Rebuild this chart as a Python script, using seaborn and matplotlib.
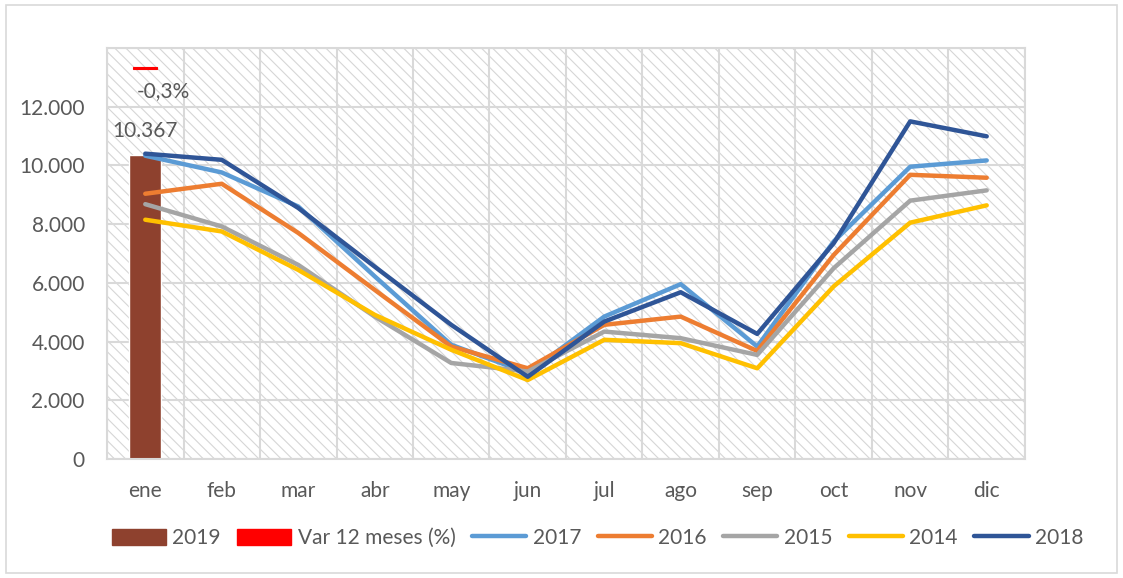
import matplotlib
matplotlib.use("Agg")
import matplotlib.pyplot as plt
from matplotlib.patches import Patch, Rectangle
from matplotlib.lines import Line2D
import seaborn as sns
import pandas as pd

months = ["ene", "feb", "mar", "abr", "may", "jun", "jul", "ago", "sep", "oct", "nov", "dic"]

# 2019 only has january so far
bar_2019 = [10367]
var_12m = [-0.3]

v2017 = [10330, 9760, 8600, 6220, 3890, 2930, 4850, 5955, 3830, 7410, 9955, 10170]
v2016 = [9035, 9375, 7700, 5760, 3830, 3090, 4570, 4850, 3680, 6950, 9680, 9580]
v2015 = [8680, 7920, 6610, 4850, 3270, 2980, 4340, 4115, 3545, 6500, 8800, 9150]
v2014 = [8150, 7750, 6440, 4910, 3720, 2690, 4060, 3945, 3090, 5880, 8050, 8640]
v2018 = [10400, 10190, 8550, 6550, 4570, 2800, 4680, 5680, 4260, 7350, 11500, 10990]

series = {"2017": v2017, "2016": v2016, "2015": v2015, "2014": v2014, "2018": v2018}
colors = {"2017": "#5B9BD5", "2016": "#ED7D31", "2015": "#A5A5A5",
          "2014": "#FFC000", "2018": "#2F5597"}
bar_color = "#8E412E"
red = "#FF0000"
grid_c = "#D9D9D9"
text_c = "#595959"

rows = []
for yr, vals in series.items():
    for i, v in enumerate(vals):
        rows.append({"mes": i, "valor": v, "anio": yr})
df = pd.DataFrame(rows)

sns.set_theme(style="white")
plt.rcParams["font.family"] = ["Lato", "DejaVu Sans"]
plt.rcParams["hatch.linewidth"] = 0.8

fig = plt.figure(figsize=(11.23, 5.78), dpi=100)
ax = fig.add_axes([0.0953, 0.2059, 0.8174, 0.7111])

# hatched plot area (downward diagonal)
ax.patch.set_facecolor("white")
ax.add_patch(Rectangle((0, 0), 1, 1, transform=ax.transAxes, facecolor="white",
                       edgecolor="#D6D6D6", linewidth=0, hatch="\\\\\\", zorder=0))

ax.bar(0, bar_2019[0], width=0.42, color=bar_color, zorder=2)
ax.annotate("10.367", (0, bar_2019[0]), xytext=(0, 10), textcoords="offset points",
            ha="center", va="bottom", fontsize=15, color=text_c)

sns.lineplot(data=df, x="mes", y="valor", hue="anio", hue_order=list(series.keys()),
             palette=colors, linewidth=3.2, legend=False, ax=ax, zorder=3)

ax.set_xlim(-0.5, 11.5)
ax.set_ylim(0, 14000)
ax.set_yticks(range(0, 14001, 2000))
ax.set_yticklabels([f"{v:,}".replace(",", ".") for v in range(0, 12001, 2000)] + [""])
ax.set_xticks(range(12))
ax.set_xticklabels(months)
ax.set_xticks([i - 0.5 for i in range(13)], minor=True)
ax.grid(False)
ax.yaxis.grid(True, color=grid_c, linewidth=1.5, zorder=1)
ax.xaxis.grid(True, which="minor", color=grid_c, linewidth=1.5, zorder=1)
ax.set_axisbelow(True)
ax.tick_params(axis="both", which="major", length=0, labelsize=15, colors=text_c)
ax.tick_params(axis="y", pad=16)
ax.tick_params(axis="x", pad=16)
ax.tick_params(axis="x", which="minor", length=5, width=1.5, color=grid_c, direction="out")
for s in ax.spines.values():
    s.set_color(grid_c)
    s.set_linewidth(1.5)
ax.set_xlabel("")
ax.set_ylabel("")

# secondary axis for the 12-month variation
ax2 = ax.twinx()
ax2.bar(0, var_12m[0], width=0.31, color=red, edgecolor=red, linewidth=0.8, zorder=4)
ax2.set_ylim(-62, 3)
ax2.set_yticks([])
for s in ax2.spines.values():
    s.set_visible(False)
ax2.annotate("-0,3%", (0, var_12m[0]), xytext=(13, -9), textcoords="offset points",
             ha="center", va="top", fontsize=15, color=text_c)

handles = [Patch(color=bar_color, label="2019"),
           Patch(color=red, label="Var 12 meses (%)")]
for yr in series:
    handles.append(Line2D([0], [0], color=colors[yr], linewidth=3.2, label=yr))
fig.legend(handles=handles, loc="center", bbox_to_anchor=(0.532, 0.069), ncol=7,
           frameon=False, fontsize=15, labelcolor=text_c, handlelength=2.6,
           handleheight=0.85, handletextpad=0.3, columnspacing=0.8)

fig.add_artist(Rectangle((6 / 1123, 5 / 578), 1111 / 1123, 568 / 578,
                         transform=fig.transFigure, fill=False, edgecolor=grid_c,
                         linewidth=1.2))

fig.savefig("out.png", dpi=100)
